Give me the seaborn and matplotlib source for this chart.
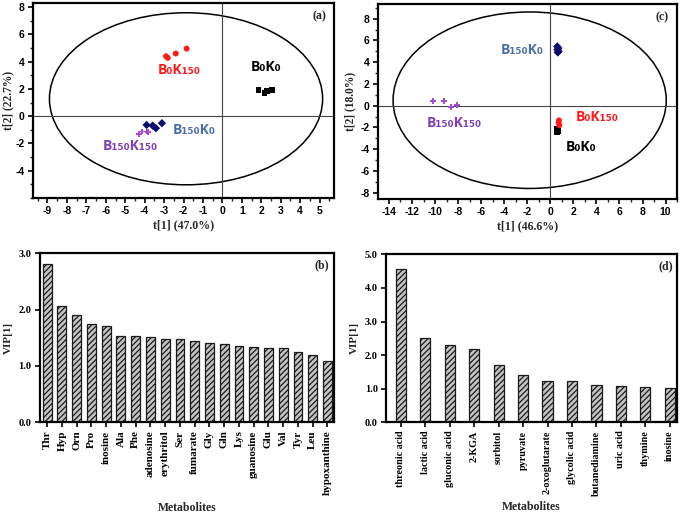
import numpy as np
import pandas as pd
import seaborn as sns
import matplotlib.pyplot as plt
from matplotlib.patches import Ellipse
from matplotlib.ticker import MultipleLocator

# ---- score plot (a) ----
a_b0k0_x = [1.86, 2.17, 2.29, 2.55]
a_b0k0_y = [1.9, 1.72, 1.82, 1.9]
a_b0k150_x = [-2.9, -2.81, -2.4, -1.84]
a_b0k150_y = [4.4, 4.28, 4.6, 4.96]
a_b150k0_x = [-3.9, -3.59, -3.42, -3.11]
a_b150k0_y = [-0.64, -0.69, -0.88, -0.51]
a_b150k150_x = [-4.28, -4.15, -3.9, -3.81]
a_b150k150_y = [-1.31, -1.12, -1.12, -1.17]

# ---- score plot (c) ----
c_b0k0_x = [0.55, 0.62, 0.7, 0.6]
c_b0k0_y = [-2.1, -2.25, -2.35, -2.4]
c_b0k150_x = [0.75, 0.72, 0.78]
c_b0k150_y = [-1.35, -1.55, -1.8]
c_b150k0_x = [0.6, 0.7, 0.62, 0.72, 0.65]
c_b150k0_y = [5.45, 5.3, 5.15, 5.0, 4.9]
c_b150k150_x = [-10.15, -9.2, -8.64, -8.06]
c_b150k150_y = [0.43, 0.43, -0.09, 0.03]

# ---- VIP (b) ----
b_names = ['Thr', 'Hyp', 'Orn', 'Pro', 'inosine', 'Ala', 'Phe', 'adenosine', 'erythritol',
           'Ser', 'fumarate', 'Gly', 'Gln', 'Lys', 'guanosine', 'Glu', 'Val', 'Tyr', 'Leu',
           'hypoxanthine']
b_vip = [2.82, 2.06, 1.91, 1.74, 1.71, 1.53, 1.53, 1.52, 1.48, 1.47, 1.44, 1.40, 1.39,
         1.35, 1.33, 1.32, 1.31, 1.24, 1.20, 1.08]
b_ticks = [0.0, 1.0, 2.0, 3.0]

# ---- VIP (d) ----
d_names = ['threonic acid', 'lactic acid', 'gluconic acid', '2-KGA', 'sorbitol', 'pyruvate',
           '2-oxoglutarate', 'glycolic acid', 'butanediamine', 'uric acid', 'thymine', 'inosine']
d_vip = [4.58, 2.50, 2.30, 2.18, 1.69, 1.40, 1.24, 1.22, 1.12, 1.08, 1.06, 1.01]
d_ticks = [0.0, 1.0, 2.0, 3.0, 4.0, 5.0]

groups = ['B0K0', 'B0K150', 'B150K0', 'B150K150']
group_labels = {'B0K0': 'B₀K₀', 'B0K150': 'B₀K₁₅₀', 'B150K0': 'B₁₅₀K₀', 'B150K150': 'B₁₅₀K₁₅₀'}
point_colors = {'B0K0': 'black', 'B0K150': '#ff1a1a', 'B150K0': '#0b0b70', 'B150K150': '#a64ad9'}
label_colors = {'B0K0': 'black', 'B0K150': '#ff1a1a', 'B150K0': '#4a6fa8', 'B150K150': '#7f3fb8'}
point_markers = {'B0K0': 's', 'B0K150': 'o', 'B150K0': 'D', 'B150K150': 'P'}

sns.set_style('ticks')
plt.rcParams['hatch.linewidth'] = 0.9
plt.rcParams['axes.unicode_minus'] = False

SANS = ['Liberation Sans', 'DejaVu Sans']
SERIF = ['Liberation Serif', 'DejaVu Serif']
LBL = ['Open Sans', 'DejaVu Sans']


def frame(ax):
    for s in ax.spines.values():
        s.set_linewidth(1.6)
        s.set_color('black')
    ax.tick_params(direction='out', width=1.2, length=3.5, pad=2.5, colors='black')
    ax.tick_params(which='minor', direction='out', width=1.0, length=2)


def score_plot(ax, xs, ys, labpos, ell, xlim, ylim, yticks, xlabel, ylabel, tag, xstep, ylab_x):
    rows = []
    for g in groups:
        for x, y in zip(xs[g], ys[g]):
            rows.append({'t1': x, 't2': y, 'grp': g})
    df = pd.DataFrame(rows)
    sns.scatterplot(data=df, x='t1', y='t2', hue='grp', style='grp', palette=point_colors,
                    markers=point_markers, s=18, linewidth=0, legend=False, ax=ax, zorder=3)
    ax.add_patch(Ellipse(ell[0], ell[1], ell[2], fill=False, lw=1.1, color='black'))
    ax.axhline(0, color='#444444', lw=0.8)
    ax.axvline(0, color='#444444', lw=0.8)
    for g in groups:
        ax.text(labpos[g][0], labpos[g][1], group_labels[g], color=label_colors[g],
                fontsize=10, fontweight='bold', family=LBL, ha='center', va='center')
    ax.xaxis.set_major_locator(MultipleLocator(xstep))
    ax.xaxis.set_minor_locator(MultipleLocator(xstep / 2))
    ax.set_yticks(yticks)
    ax.yaxis.set_minor_locator(MultipleLocator(1))
    ax.set_xlim(xlim)
    ax.set_ylim(ylim)
    frame(ax)
    for t in ax.get_xticklabels() + ax.get_yticklabels():
        t.set_family(SANS)
        t.set_fontweight('bold')
        t.set_fontsize(7.5)
    ax.set_xlabel(xlabel, family=SERIF, fontweight='bold', fontsize=8.5, labelpad=2)
    ax.set_ylabel(ylabel, family=SERIF, fontweight='bold', fontsize=8.3)
    ax.yaxis.set_label_coords(ylab_x, 0.5)
    ax.text(0.95, 0.93, tag, transform=ax.transAxes, family=SERIF, fontweight='bold',
            fontsize=8.5, ha='center', va='center')


def vip_plot(ax, names, vals, ticks, tag, width, xlim, fs, ylab_x):
    df = pd.DataFrame({'name': names, 'vip': vals})
    sns.barplot(data=df, x='name', y='vip', color='#c4c4c4', edgecolor='#1a1a1a', linewidth=0.9,
                hatch='//////', width=width, saturation=1, ax=ax)
    ax.set_yticks(ticks)
    ax.set_yticklabels([f'{v:.1f}' for v in ticks])
    ax.set_ylim(ticks[0], ticks[-1])
    ax.set_xlim(xlim)
    frame(ax)
    ax.tick_params(axis='x', rotation=90)
    for t in ax.get_xticklabels():
        t.set_family(SERIF)
        t.set_fontweight('bold')
        t.set_fontsize(fs)
    for t in ax.get_yticklabels():
        t.set_family(SERIF)
        t.set_fontweight('bold')
        t.set_fontsize(7.5)
    ax.set_xlabel('Metabolites', family=SERIF, fontweight='bold', fontsize=8.5)
    ax.xaxis.set_label_coords(0.5, -0.47)
    ax.set_ylabel('VIP[1]', family=SERIF, fontweight='bold', fontsize=8)
    ax.yaxis.set_label_coords(ylab_x, 0.5)
    ax.text(0.96, 0.93, tag, transform=ax.transAxes, family=SERIF, fontweight='bold',
            fontsize=8.5, ha='center', va='center')


fig = plt.figure(figsize=(6.86, 5.13), dpi=100)
ax_a = fig.add_axes([0.048, 0.614, 0.439, 0.380])
ax_c = fig.add_axes([0.551, 0.612, 0.436, 0.380])
ax_b = fig.add_axes([0.058, 0.177, 0.429, 0.329])
ax_d = fig.add_axes([0.563, 0.177, 0.424, 0.327])

score_plot(ax_a,
           {'B0K0': a_b0k0_x, 'B0K150': a_b0k150_x, 'B150K0': a_b150k0_x, 'B150K150': a_b150k150_x},
           {'B0K0': a_b0k0_y, 'B0K150': a_b0k150_y, 'B150K0': a_b150k0_y, 'B150K150': a_b150k150_y},
           {'B0K0': (2.23, 3.63), 'B0K150': (-2.2, 3.38), 'B150K0': (-1.46, -1.0), 'B150K150': (-4.73, -2.21)},
           ((-1.87, 1.28), 14.06, 12.62), (-9.75, 5.75), (-6.0, 8.3), [-4, -2, 0, 2, 4, 6, 8],
           't[1] (47.0%)', 't[2] (22.7%)', '(a)', 1, -0.062)

score_plot(ax_c,
           {'B0K0': c_b0k0_x, 'B0K150': c_b0k150_x, 'B150K0': c_b150k0_x, 'B150K150': c_b150k150_x},
           {'B0K0': c_b0k0_y, 'B0K150': c_b0k150_y, 'B150K0': c_b150k0_y, 'B150K150': c_b150k150_y},
           {'B0K0': (2.69, -3.78), 'B0K150': (4.05, -1.08), 'B150K0': (-2.46, 5.14), 'B150K150': (-8.3, -1.57)},
           ((-1.79, 0.5), 23.7, 16.25), (-14.95, 11.0), (-8.6, 9.35), [-8, -6, -4, -2, 0, 2, 4, 6, 8],
           't[1] (46.6%)', 't[2] (18.0%)', '(c)', 2, -0.072)

vip_plot(ax_b, b_names, b_vip, b_ticks, '(b)', 0.6, (-0.5, 19.45), 8, -0.09)
vip_plot(ax_d, d_names, d_vip, d_ticks, '(d)', 0.42, (-0.6, 11.3), 7.3, -0.095)

fig.savefig('out.png', dpi=100)
